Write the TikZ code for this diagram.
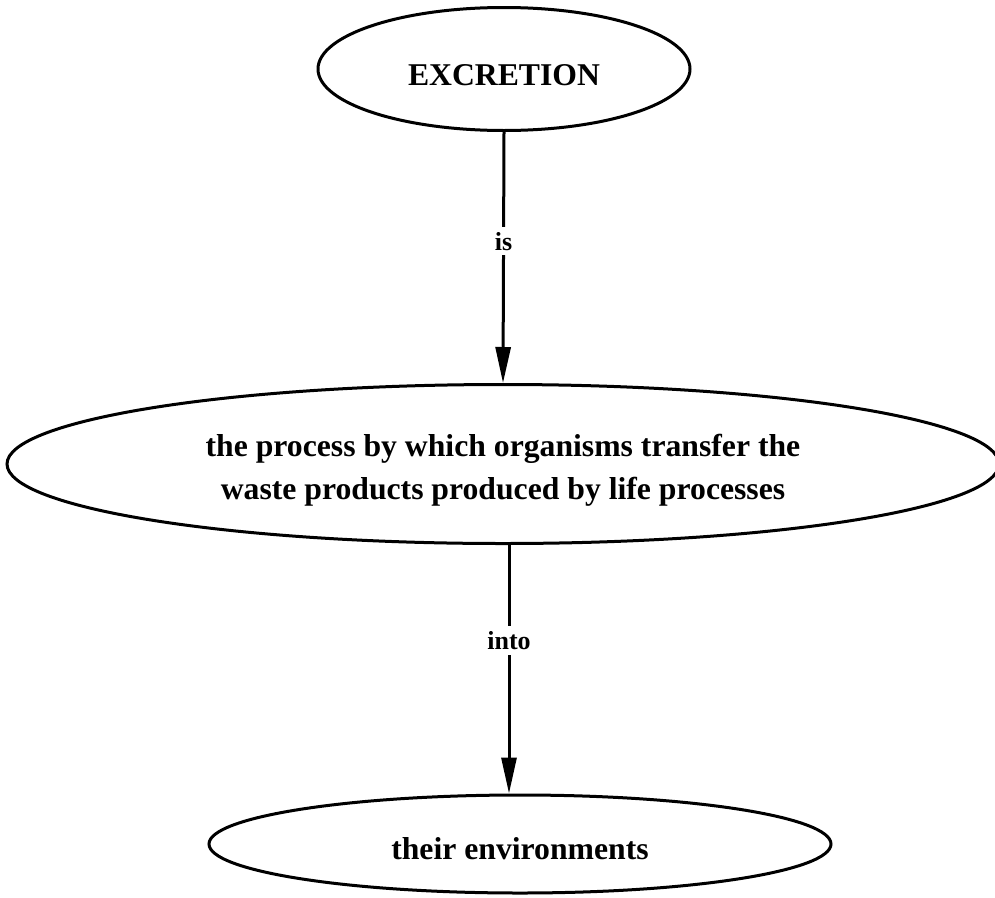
\documentclass[tikz,border=0pt]{standalone}
\usepackage{fontspec}
\setmainfont{Liberation Serif}
\usetikzlibrary{shapes.geometric,arrows.meta,calc}
% lower a node's text without changing the size the node sees
\newcommand{\lowertext}[2]{\raisebox{-#1}[\height][\depth]{#2}}
\begin{document}
\begin{tikzpicture}[x=1pt,y=-1pt,
  concept/.style={ellipse,draw,line width=3pt,inner sep=0pt,
    font=\fontsize{31.7}{43}\selectfont\bfseries,align=center},
  link/.style={line width=3pt,-{Triangle[length=36pt,width=15pt]}},
  linklabel/.style={fill=white,inner sep=5pt,font=\fontsize{26}{30}\selectfont\bfseries}]
  \useasboundingbox (0,0) rectangle (995,897);
  % concepts
  \node[concept,minimum width=372pt,minimum height=123pt] (top) at (504,69)
    {\lowertext{6pt}{EXCRETION}};
  \node[concept,minimum width=992pt,minimum height=159pt] (mid) at (503,464)
    {\lowertext{6pt}{\shortstack{the process by which organisms transfer the\\[11pt]waste products produced by life processes}}};
  \node[concept,minimum width=622pt,minimum height=98pt] (low) at (520,844)
    {\lowertext{5pt}{their environments}};
  % links
  \coordinate (e2a) at ($(mid.south)+(6,0)$);
  \coordinate (e2b) at (e2a |- low.north);
  \draw[link] (top.south) -- node[linklabel,pos=0.435] {is} (mid.north);
  \draw[link] (e2a) -- node[linklabel,pos=0.384] {into} (e2b);
\end{tikzpicture}
\end{document}
